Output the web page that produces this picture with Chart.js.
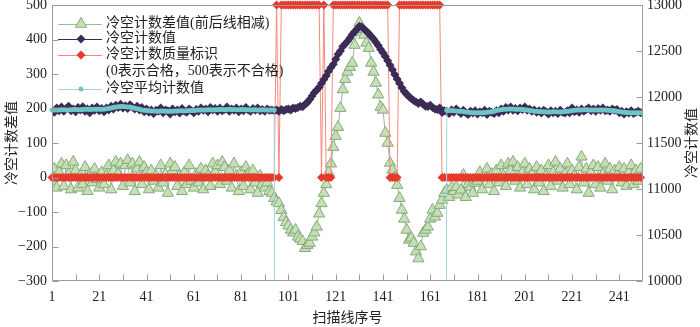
<!DOCTYPE html>
<html>
<head>
<meta charset="utf-8">
<script src="https://cdn.jsdelivr.net/npm/chart.js@4.4.1/dist/chart.umd.min.js"></script>
<style>
  html, body { margin: 0; padding: 0; background: #fff; }
  #wrap { width: 700px; height: 327px; position: relative; }
</style>
</head>
<body>
<div id="wrap"><canvas id="coldChart"></canvas></div>
<script>
// scan line numbers 1..250
const scanLines = Array.from({ length: 250 }, (_, i) => i + 1);

const xTickLabels = [1, 21, 41, 61, 81, 101, 121, 141, 161, 181, 201, 221, 241];
const xMinorTicks = [11, 21, 31, 41, 51, 61, 71, 81, 91, 101, 111, 121, 131, 141, 151, 161, 171, 181, 191, 201, 211, 221, 231, 241];

const seriesLabels = [
  '冷空计数差值(前后线相减)',
  '冷空计数值',
  ['冷空计数质量标识', '(0表示合格，500表示不合格)'],
  '冷空平均计数值'
];

// 冷空计数差值 (left axis)
const diffValues = [
  -10, 25, -30, 15, 40, -25, 35, 10, -35, 45,
  20, -30, 5, -20, 30, -40, 10, -15, 25, -5,
  -30, 15, -20, 5, 35, -35, 20, 45, 10, 40,
  -25, 35, 50, -15, 40, -40, 25, 45, -20, 30,
  15, -35, 20, -10, 5, -30, 35, -15, 10, -45,
  40, 20, 30, -25, 5, -40, 15, -20, 35, -10,
  -30, 10, -15, 25, -35, 20, 5, -25, 40, 15,
  35, -20, 45, 30, -10, 20, -30, 40, 5, -40,
  15, -25, 30, 10, -35, 20, -15, -45, 5, -20,
  -30, -15, -40, -45, -60, -70, -75, -95, -115, -130,
  -140, -152, -160, -152, -172, -178, -185, -205, -196, -190,
  -172, -160, -143, -105, -75, -45, -20, 15, 40, 88,
  120, 146, 201, 255, 285, 306, 320, 332, 384, 422,
  448, 430, 413, 390, 375, 332, 306, 274, 240, 204,
  196, 129, 100, 42, 22, 0, -22, -60, -94, -120,
  -152, -181, -175, -190, -215, -235, -200, -161, -152, -143,
  -120, -94, -114, -103, -80, -65, -45, -36, -57, -28,
  -40, -28, -50, -36, 7, -57, -20, -28, -45, -16,
  -10, 15, -35, 5, 25, -20, 10, -40, 20, -15,
  35, 5, -25, 40, 20, 45, -10, 30, -30, 15,
  40, -20, 25, 10, -35, 30, -15, 20, -40, 5,
  35, -25, 15, 45, -10, 25, -30, 10, 40, -20,
  20, 5, -35, 30, 60, -15, 25, -45, 15, 35,
  -20, 30, -30, 10, 40, -10, 25, -35, 20, 5,
  30, -15, 25, -25, 15, 35, -20, 20, -10, 25
];

// 冷空计数值 (right axis)
const countValues = [
  11860, 11835, 11880, 11850, 11890, 11845, 11875, 11900, 11850, 11870,
  11840, 11885, 11860, 11895, 11845, 11870, 11830, 11880, 11855, 11890,
  11850, 11875, 11840, 11880, 11860, 11900, 11870, 11910, 11885, 11920,
  11880, 11905, 11875, 11915, 11890, 11870, 11900, 11860, 11885, 11840,
  11870, 11835, 11860, 11820, 11855, 11845, 11880, 11830, 11860, 11850,
  11815, 11870, 11840, 11860, 11825, 11875, 11845, 11835, 11870, 11850,
  11830, 11865, 11845, 11880, 11855, 11870, 11840, 11885, 11860, 11875,
  11845, 11880, 11850, 11865, 11890, 11845, 11870, 11855, 11880, 11840,
  11870, 11850, 11885, 11860, 11845, 11875, 11855, 11880, 11850, 11865,
  11845, 11870, 11855, 11860, 11850, 11860, 11845, 11865, 11850, 11865,
  11870, 11860, 11880, 11875, 11887, 11900, 11895, 11919, 11940, 11974,
  12010, 12050, 12075, 12105, 12150, 12190, 12230, 12280, 12320, 12355,
  12410, 12465, 12500, 12550, 12575, 12605, 12640, 12680, 12710, 12737,
  12770, 12760, 12740, 12715, 12690, 12660, 12630, 12595, 12560, 12520,
  12480, 12440, 12395, 12345, 12295, 12245, 12195, 12150, 12100, 12060,
  12030, 12005, 11980, 11963, 11945, 11930, 11945, 11920, 11900, 11898,
  11910, 11887, 11870, 11865, 11880, 11832, 11850, 11843, 11820, 11860,
  11835, 11870, 11845, 11820, 11855, 11830, 11810, 11845, 11825, 11850,
  11815, 11840, 11830, 11855, 11810, 11845, 11835, 11820, 11850, 11830,
  11870, 11845, 11885, 11860, 11890, 11855, 11875, 11850, 11880, 11865,
  11890, 11855, 11870, 11845, 11860, 11835, 11850, 11825, 11855, 11840,
  11815, 11850, 11830, 11845, 11820, 11855, 11835, 11825, 11850, 11830,
  11880, 11840, 11860, 11835, 11870, 11845, 11865, 11880, 11850, 11870,
  11845, 11875, 11855, 11880, 11850, 11860, 11845, 11870, 11855, 11865,
  11830, 11845, 11815, 11840, 11825, 11850, 11820, 11835, 11845, 11830
];

// 冷空计数质量标识 (left axis): 0 ok, 500 bad
const flagValues = [
  0, 0, 0, 0, 0, 0, 0, 0, 0, 0,
  0, 0, 0, 0, 0, 0, 0, 0, 0, 0,
  0, 0, 0, 0, 0, 0, 0, 0, 0, 0,
  0, 0, 0, 0, 0, 0, 0, 0, 0, 0,
  0, 0, 0, 0, 0, 0, 0, 0, 0, 0,
  0, 0, 0, 0, 0, 0, 0, 0, 0, 0,
  0, 0, 0, 0, 0, 0, 0, 0, 0, 0,
  0, 0, 0, 0, 0, 0, 0, 0, 0, 0,
  0, 0, 0, 0, 0, 0, 0, 0, 0, 0,
  0, 0, 0, 0, 0, 500, 0, 500, 500, 500,
  500, 500, 500, 500, 500, 500, 500, 500, 500, 500,
  500, 500, 500, 500, 0, 500, 0, 0, 0, 500,
  500, 500, 500, 500, 500, 500, 500, 500, 500, 500,
  500, 500, 500, 500, 500, 500, 500, 500, 500, 500,
  500, 500, 500, 0, 0, 0, 0, 500, 500, 500,
  500, 500, 500, 500, 500, 500, 500, 500, 500, 500,
  500, 500, 500, 500, 500, 0, 0, 0, 0, 0,
  0, 0, 0, 0, 0, 0, 0, 0, 0, 0,
  0, 0, 0, 0, 0, 0, 0, 0, 0, 0,
  0, 0, 0, 0, 0, 0, 0, 0, 0, 0,
  0, 0, 0, 0, 0, 0, 0, 0, 0, 0,
  0, 0, 0, 0, 0, 0, 0, 0, 0, 0,
  0, 0, 0, 0, 0, 0, 0, 0, 0, 0,
  0, 0, 0, 0, 0, 0, 0, 0, 0, 0,
  0, 0, 0, 0, 0, 0, 0, 0, 0, 0
];

// 冷空平均计数值 (right axis); 0 where no valid mean
const meanValues = [
  11858, 11858, 11860, 11860, 11862, 11862, 11860, 11860, 11862, 11864,
  11864, 11862, 11862, 11864, 11866, 11866, 11864, 11866, 11868, 11868,
  11866, 11866, 11868, 11872, 11876, 11880, 11886, 11890, 11894, 11896,
  11896, 11894, 11892, 11890, 11884, 11878, 11872, 11866, 11860, 11856,
  11852, 11850, 11848, 11848, 11846, 11846, 11848, 11848, 11846, 11846,
  11844, 11846, 11848, 11848, 11850, 11850, 11848, 11850, 11852, 11852,
  11854, 11856, 11858, 11858, 11860, 11860, 11862, 11862, 11860, 11862,
  11862, 11864, 11864, 11862, 11864, 11866, 11864, 11864, 11862, 11862,
  11864, 11864, 11862, 11862, 11860, 11862, 11862, 11860, 11860, 11862,
  11860, 11860, 11858, 11860, 11858, 0, 0, 0, 0, 0,
  0, 0, 0, 0, 0, 0, 0, 0, 0, 0,
  0, 0, 0, 0, 0, 0, 0, 0, 0, 0,
  0, 0, 0, 0, 0, 0, 0, 0, 0, 0,
  0, 0, 0, 0, 0, 0, 0, 0, 0, 0,
  0, 0, 0, 0, 0, 0, 0, 0, 0, 0,
  0, 0, 0, 0, 0, 0, 0, 0, 0, 0,
  0, 0, 0, 0, 0, 0, 0, 11856, 11854, 11852,
  11850, 11848, 11846, 11844, 11842, 11838, 11834, 11832, 11830, 11830,
  11828, 11830, 11830, 11832, 11834, 11836, 11840, 11846, 11852, 11858,
  11862, 11866, 11868, 11870, 11870, 11870, 11868, 11868, 11866, 11864,
  11862, 11858, 11854, 11850, 11846, 11844, 11842, 11840, 11840, 11838,
  11838, 11838, 11840, 11840, 11838, 11838, 11840, 11842, 11844, 11848,
  11852, 11856, 11858, 11860, 11860, 11862, 11862, 11860, 11860, 11858,
  11858, 11858, 11860, 11860, 11858, 11856, 11854, 11852, 11850, 11846,
  11842, 11838, 11834, 11832, 11830, 11830, 11830, 11828, 11830, 11830
];

const numFont = { family: "'Liberation Serif', 'Times New Roman', serif", size: 14 };
const cjkFamily = "'Liberation Serif', 'Noto Sans CJK SC', serif";
const plainTick = v => (v < 0 ? '\u2212' + Math.abs(v) : String(v));

// frame, inward tick marks, right-axis title and the legend box
const decor = {
  id: 'decor',
  afterDatasetsDraw(chart) {
    const { ctx, chartArea: a, scales } = chart;
    const L = Math.round(a.left) + 0.5, R = Math.round(a.right) - 0.5;
    const T = Math.round(a.top) + 0.5, B = Math.round(a.bottom) - 0.5;
    ctx.save();
    ctx.strokeStyle = '#9b9b9b';
    ctx.lineWidth = 1;
    ctx.beginPath();
    ctx.rect(L, T, R - L, B - T);
    xMinorTicks.forEach(v => {
      const px = Math.round(scales.x.getPixelForValue(v)) + 0.5;
      ctx.moveTo(px, B); ctx.lineTo(px, B - 6);
    });
    scales.y.ticks.forEach(t => {
      const py = Math.round(scales.y.getPixelForValue(t.value)) + 0.5;
      ctx.moveTo(L, py); ctx.lineTo(L + 6, py);
    });
    scales.y1.ticks.forEach(t => {
      const py = Math.round(scales.y1.getPixelForValue(t.value)) + 0.5;
      ctx.moveTo(R, py); ctx.lineTo(R - 6, py);
    });
    ctx.stroke();
    ctx.restore();
  },
  afterDraw(chart) {
    const { ctx } = chart;
    ctx.save();
    // right axis title, reading bottom to top like the left one
    ctx.fillStyle = '#222';
    ctx.font = '14px ' + cjkFamily;
    ctx.textAlign = 'center';
    ctx.textBaseline = 'middle';
    ctx.translate(692, 143);
    ctx.rotate(-Math.PI / 2);
    ctx.fillText('冷空计数值', 0, 0);
    ctx.restore();

    // legend inside the plot, top left
    const rows = [24, 39, 55, 89];
    ctx.save();
    chart.data.datasets.forEach((ds, i) => {
      const y = rows[i];
      ctx.strokeStyle = ds.borderColor;
      ctx.lineWidth = 1;
      ctx.beginPath();
      ctx.moveTo(58, y + 0.5); ctx.lineTo(102, y + 0.5);
      ctx.stroke();
      ctx.fillStyle = ds.pointBackgroundColor;
      ctx.strokeStyle = ds.pointBorderColor;
      ctx.lineWidth = ds.pointBorderWidth;
      Chart.helpers.drawPoint(ctx, {
        pointStyle: ds.pointStyle, radius: ds.pointRadius, rotation: 0, borderWidth: ds.pointBorderWidth
      }, 81, y);
      ctx.fillStyle = '#222';
      ctx.font = '14px ' + cjkFamily;
      ctx.textAlign = 'left';
      ctx.textBaseline = 'middle';
      const lines = Array.isArray(ds.label) ? ds.label : [ds.label];
      lines.forEach((t, k) => ctx.fillText(t, 106, y - 1 + k * 17));
    });
    ctx.restore();
  }
};

new Chart(document.getElementById('coldChart'), {
  type: 'line',
  data: {
    labels: scanLines,
    datasets: [
      {
        label: seriesLabels[0], data: diffValues, yAxisID: 'y', order: 4,
        borderColor: '#9fb79c', borderWidth: 1,
        pointStyle: 'triangle', pointRadius: 6.5,
        pointBackgroundColor: '#c6e0b4', pointBorderColor: '#84a880', pointBorderWidth: 1
      },
      {
        label: seriesLabels[1], data: countValues, yAxisID: 'y1', order: 2,
        borderColor: '#3b2b55', borderWidth: 1,
        pointStyle: 'rectRot', pointRadius: 4.5,
        pointBackgroundColor: '#3b2b55', pointBorderColor: '#3b2b55', pointBorderWidth: 0
      },
      {
        label: seriesLabels[2], data: flagValues, yAxisID: 'y', order: 3,
        borderColor: '#f3897a', borderWidth: 1,
        pointStyle: 'rectRot', pointRadius: 4.5,
        pointBackgroundColor: '#e8392b', pointBorderColor: '#e8392b', pointBorderWidth: 0,
        clip: { left: 6, top: 6, right: 6, bottom: 6 }
      },
      {
        label: seriesLabels[3], data: meanValues, yAxisID: 'y1', order: 1,
        borderColor: '#9dd8d8', borderWidth: 1,
        pointStyle: 'circle', pointRadius: 2.5,
        pointBackgroundColor: '#6cc6c6', pointBorderColor: '#6cc6c6', pointBorderWidth: 0,
        clip: { left: 5, top: 5, right: 5, bottom: 0 }
      }
    ]
  },
  options: {
    responsive: true,
    maintainAspectRatio: false,
    animation: false,
    devicePixelRatio: 1,
    layout: { padding: { top: 5, left: 0, right: 0, bottom: 0 }, autoPadding: false },
    plugins: { legend: { display: false }, tooltip: { enabled: false } },
    scales: {
      x: {
        type: 'linear', min: 1, max: 251,
        grid: { display: false, drawTicks: false },
        border: { display: false },
        afterBuildTicks: s => { s.ticks = xTickLabels.map(v => ({ value: v })); },
        afterFit: s => { s.height = 46; s.paddingLeft = 0; s.paddingRight = 0; },
        ticks: { font: numFont, color: '#222', padding: 8, maxRotation: 0, autoSkip: false },
        title: { display: true, text: '扫描线序号', color: '#222', font: { family: cjkFamily, size: 14 }, padding: { top: 0, bottom: 0 } }
      },
      y: {
        position: 'left', min: -300, max: 500,
        grid: { display: false, drawTicks: false },
        border: { display: false },
        afterFit: s => { s.width = 52; s.paddingTop = 0; s.paddingBottom = 0; },
        ticks: { stepSize: 100, font: numFont, color: '#222', padding: 5, callback: plainTick },
        title: { display: true, text: '冷空计数差值', color: '#222', font: { family: cjkFamily, size: 14 }, padding: { top: 4, bottom: 0 } }
      },
      y1: {
        position: 'right', min: 10000, max: 13000,
        grid: { display: false, drawTicks: false },
        border: { display: false },
        afterFit: s => { s.width = 57; s.paddingTop = 0; s.paddingBottom = 0; },
        ticks: { stepSize: 500, font: numFont, color: '#222', padding: 4, callback: plainTick }
      }
    }
  },
  plugins: [decor]
});
</script>
</body>
</html>
